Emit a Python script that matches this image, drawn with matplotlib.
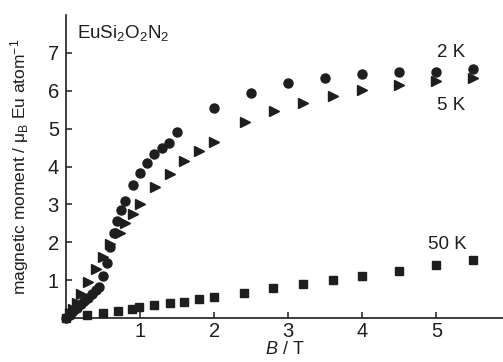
import matplotlib
matplotlib.use("Agg")
import matplotlib.pyplot as plt

plt.rcParams['font.family'] = ['Liberation Sans', 'DejaVu Sans']
plt.rcParams['mathtext.fontset'] = 'custom'
plt.rcParams['mathtext.rm'] = 'Liberation Sans'
plt.rcParams['mathtext.it'] = 'Liberation Sans:italic'

# Magnetisation data
b_2k = [0, 0.05, 0.1, 0.15, 0.2, 0.25, 0.3, 0.35, 0.4, 0.45, 0.5, 0.55, 0.59, 0.65,
        0.69, 0.74, 0.8, 0.9, 1.0, 1.09, 1.19, 1.3, 1.39, 1.5, 2.0, 2.5, 3.0, 3.5,
        4.0, 4.5, 5.0, 5.5]
m_2k = [0, 0.09, 0.18, 0.27, 0.36, 0.45, 0.54, 0.63, 0.73, 0.82, 1.1, 1.45, 1.88, 2.24,
        2.55, 2.84, 3.08, 3.5, 3.84, 4.1, 4.34, 4.5, 4.63, 4.9, 5.55, 5.93, 6.2, 6.33,
        6.45, 6.5, 6.5, 6.58]

b_5k = [0.05, 0.1, 0.15, 0.2, 0.3, 0.4, 0.5, 0.6, 0.73, 0.8, 0.9, 1.0, 1.2, 1.4, 1.6,
        1.8, 2.0, 2.42, 2.81, 3.2, 3.6, 4.0, 4.5, 5.0, 5.5]
m_5k = [0.12, 0.25, 0.4, 0.64, 0.95, 1.3, 1.6, 1.95, 2.24, 2.5, 2.75, 3.02, 3.46, 3.81,
        4.15, 4.41, 4.64, 5.17, 5.47, 5.69, 5.87, 6.02, 6.15, 6.26, 6.35]

b_50k = [0, 0.28, 0.5, 0.7, 0.89, 0.99, 1.19, 1.4, 1.6, 1.8, 2.0, 2.4, 2.8, 3.2, 3.6,
         4.0, 4.5, 5.0, 5.5]
m_50k = [0, 0.08, 0.13, 0.19, 0.25, 0.28, 0.35, 0.39, 0.43, 0.49, 0.55, 0.66, 0.79,
         0.89, 1.0, 1.11, 1.24, 1.39, 1.52]

col = '#1e1e1e'

fig = plt.figure(figsize=(5.03, 3.62), dpi=100)
ax = fig.add_axes([0.131, 0.1215, 0.869, 0.837])

ax.plot(b_2k, m_2k, 'o', color=col, markersize=6.5, clip_on=False)
ax.plot(b_5k, m_5k, '>', color=col, markersize=6.5, clip_on=False)
ax.plot(b_50k, m_50k, 's', color=col, markersize=5.8, clip_on=False)

ax.set_xlim(0, 5.9)
ax.set_ylim(0, 8)
ax.set_xticks([1, 2, 3, 4, 5])
ax.set_yticks([1, 2, 3, 4, 5, 6, 7])
ax.tick_params(direction='in', length=4, width=1.1, labelsize=14.5, color=col,
               labelcolor=col)
ax.tick_params(axis='x', pad=3)
ax.tick_params(axis='y', pad=5)

for s in ['top', 'right']:
    ax.spines[s].set_visible(False)
for s in ['left', 'bottom']:
    ax.spines[s].set_linewidth(1.2)
    ax.spines[s].set_color(col)

ax.set_xlabel('$B$ / T', fontsize=13, color=col, labelpad=0)
ax.set_ylabel('magnetic moment / μ$_\\mathrm{B}$ Eu atom$^{-1}$', fontsize=12.5,
              color=col, labelpad=12)

ax.text(0.025, 0.975, 'EuSi$_2$O$_2$N$_2$', transform=ax.transAxes, fontsize=13.5,
        color=col, va='top', ha='left')
ax.text(5.2, 7.0, '2 K', fontsize=13.5, color=col, ha='center', va='center')
ax.text(5.2, 5.6, '5 K', fontsize=13.5, color=col, ha='center', va='center')
ax.text(5.15, 1.95, '50 K', fontsize=13.5, color=col, ha='center', va='center')

fig.savefig('out.png', dpi=100)
